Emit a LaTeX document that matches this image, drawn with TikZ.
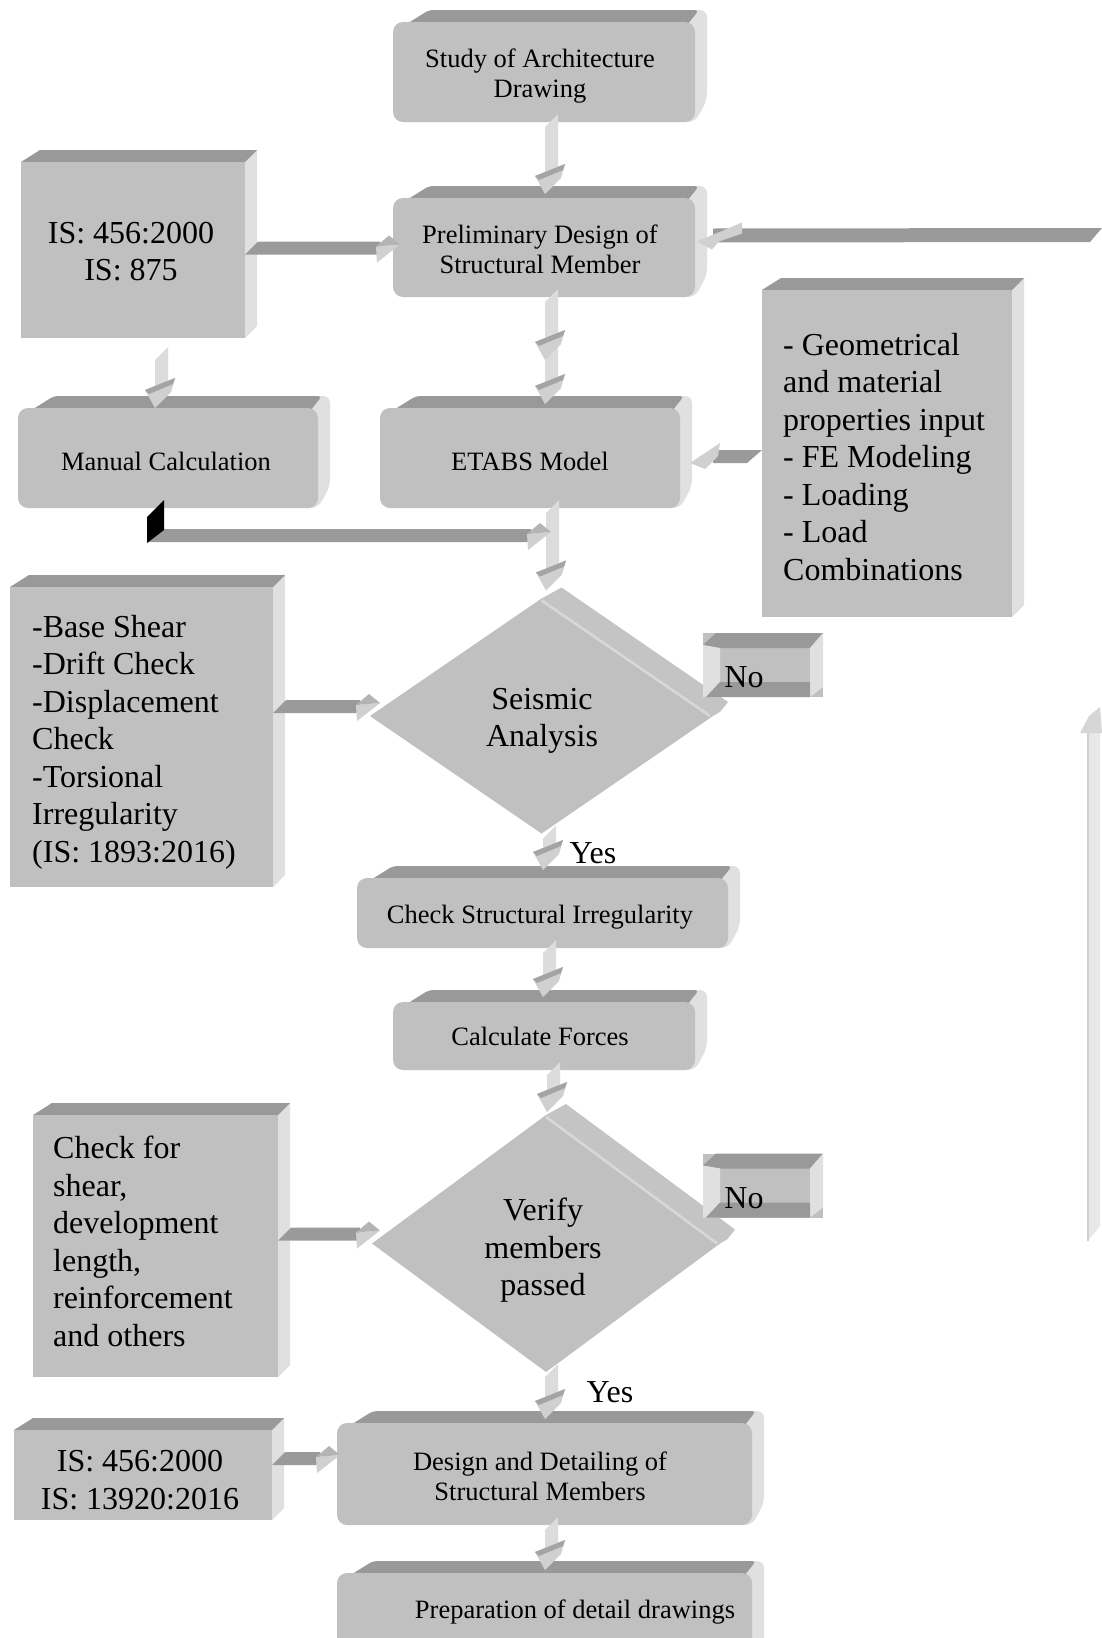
\documentclass[tikz,border=0pt]{standalone}
\usepackage{fontspec}
\setmainfont{Liberation Serif}
\usetikzlibrary{calc,shapes.geometric,backgrounds}
\definecolor{frontc}{HTML}{C0C0C0}
\definecolor{topc}{HTML}{999999}
\definecolor{sidec}{HTML}{E0E0E0}
\definecolor{barv}{HTML}{DCDCDC}
\definecolor{headd}{HTML}{A4A4A4}
\definecolor{headl}{HTML}{D0D0D0}
\definecolor{headm}{HTML}{B4B4B4}
\definecolor{barh}{HTML}{9A9A9A}
\definecolor{bandc}{HTML}{C4C4C4}
\definecolor{edgec}{HTML}{D8D8D8}
\definecolor{upc}{HTML}{E8E8E8}
\definecolor{upedge}{HTML}{D0D0D0}
\definecolor{uphead}{HTML}{D6D6D6}
\tikzset{
 rbox/.style={rectangle, rounded corners=10pt, fill=frontc, draw=none, inner sep=0pt, outer sep=0pt},
 sbox/.style={rectangle, fill=frontc, draw=none, inner sep=0pt, outer sep=0pt},
 dbox/.style={diamond, fill=frontc, draw=none, inner sep=0pt, outer sep=0pt},
 smalltxt/.style={font=\fontsize{26.5}{30}\selectfont, inner sep=0pt, align=center, anchor=north},
 bigtxt/.style={font=\fontsize{32}{37.5}\selectfont, inner sep=0pt, align=center, anchor=north},
 bigleft/.style={font=\fontsize{32}{37.5}\selectfont, inner sep=0pt, align=left, anchor=north west},
}
\newcommand\rback[1]{%
 \begin{pgfonlayer}{background}
 \fill[sidec, rounded corners=7pt] ($(#1.north east)+(-20,0)$) -- ($(#1.north east)+(-8,-12)$) -- ($(#1.north east)+(12,-12)$) -- ($(#1.south east)+(12,-22)$) -- (#1.south east) -- ($(#1.south east)+(-20,0)$) -- cycle;
 \fill[topc, rounded corners=4pt] ($(#1.north west)+(4,8)$) -- ($(#1.north west)+(36,-12)$) -- ($(#1.north east)+(4,-12)$) -- ($(#1.north east)+(-12,8)$) -- cycle;
 \end{pgfonlayer}}
\newcommand\sback[1]{%
 \begin{pgfonlayer}{background}
 \fill[sidec] (#1.north east) -- ($(#1.north east)+(12,-12)$) -- ($(#1.south east)+(12,-12)$) -- (#1.south east) -- cycle;
 \fill[topc] (#1.north west) -- ($(#1.north west)+(19,-12)$) -- ($(#1.north east)+(12,-12)$) -- (#1.north east) -- cycle;
 \end{pgfonlayer}}
\newcommand\dback[1]{%
 \begin{pgfonlayer}{background}
 \fill[bandc] (#1.north) -- ($(#1.north)+(20,-11)$) -- ($(#1.east)+(15,-14)$) -- ($(#1.east)+(7,-4)$) -- (#1.east) -- cycle;
 \end{pgfonlayer}
 \draw[edgec, line width=2.5pt] ($(#1.north)+(0,2)$) -- ($(#1.east)+(-3,0)$);}
\newcommand\nobox[1]{%
 \fill[topc] ($(#1)+(-60,-20)$) -- ($(#1)+(-47,-32)$) -- ($(#1)+(60,-32)$) -- ($(#1)+(47,-17)$) -- ($(#1)+(-43,-17)$) -- cycle;
 \fill[sidec] ($(#1)+(-60,-20)$) -- ($(#1)+(-43,-17)$) -- ($(#1)+(-43,32)$) -- ($(#1)+(-60,32)$) -- cycle;
 \fill[sidec] ($(#1)+(47,-17)$) -- ($(#1)+(60,-32)$) -- ($(#1)+(60,22)$) -- ($(#1)+(47,32)$) -- cycle;
 \fill[topc] ($(#1)+(-43,17)$) -- ($(#1)+(47,17)$) -- ($(#1)+(47,32)$) -- ($(#1)+(-57,32)$) -- cycle;}
\newcommand\vhead[1]{%
 \fill[headl] ($(#1)+(-10,-18)$) -- ($(#1)+(20,-30)$) -- ($(#1)+(16,-16)$) -- (#1) -- cycle;
 \fill[headd] ($(#1)+(-10,-18)$) -- ($(#1)+(20,-30)$) -- ($(#1)+(18,-24)$) -- ($(#1)+(-6,-14)$) -- cycle;}
\newcommand\varrow[2]{%
 \coordinate (vS) at (#2 |- #1);
 \fill[barv] ($(vS)+(0,5)$) -- ($(vS)+(13,-8)$) -- ($(#2)+(13,-26)$) -- ($(#2)+(0,-18)$) -- cycle;
 \vhead{#2}}
\newcommand\harrow[2]{%
 \coordinate (hS) at (#1 |- #2);
 \fill[barh] ($(hS)+(0,10)$) -- ($(hS)+(13,-3)$) -- ($(#2)+(-20,-3)$) -- ($(#2)+(-20,10)$) -- cycle;
 \fill[headl] ($(#2)+(-24,2)$) -- (#2) -- ($(#2)+(-23,18)$) -- cycle;
 \fill[headm] ($(#2)+(-24,2)$) -- ($(#2)+(-11,-9)$) -- (#2) -- cycle;}
\begin{document}
\begin{tikzpicture}[x=1pt,y=-1pt]
\useasboundingbox (0,0) rectangle (1102,1638);
\begin{pgfonlayer}{background}
\fill[white] (0,0) rectangle (1102,1638);
\end{pgfonlayer}
% front faces
\node[rbox, minimum width=302pt, minimum height=100pt] (study) at (544,72) {};
\node[rbox, minimum width=302pt, minimum height=99pt] (prelim) at (544,247.5) {};
\node[sbox, minimum width=224pt, minimum height=176pt] (is1) at (133,250) {};
\node[sbox, minimum width=250pt, minimum height=327pt] (geom) at (887,453.5) {};
\node[rbox, minimum width=300pt, minimum height=100pt] (manual) at (168,458) {};
\node[rbox, minimum width=300pt, minimum height=100pt] (etabs) at (530,458) {};
\node[sbox, minimum width=263pt, minimum height=300pt] (base) at (141.5,737) {};
\node[dbox, minimum width=343pt, minimum height=235pt] (seismic) at (541.5,716) {};
\node[rbox, minimum width=371pt, minimum height=70pt] (check) at (542.5,913) {};
\node[rbox, minimum width=302pt, minimum height=68pt] (calc) at (544,1036) {};
\node[sbox, minimum width=245pt, minimum height=262pt] (checkfor) at (155.5,1246) {};
\node[dbox, minimum width=348pt, minimum height=257pt] (verify) at (546,1243.5) {};
\node[sbox, minimum width=258pt, minimum height=90pt] (is2) at (143,1475) {};
\node[rbox, minimum width=415pt, minimum height=102pt] (design) at (544.5,1474) {};
\node[rbox, minimum width=415pt, minimum height=110pt] (prep) at (544.5,1628) {};
\node[sbox, minimum width=120pt, minimum height=64pt] (no1) at (763,665) {};
\node[sbox, minimum width=120pt, minimum height=64pt] (no2) at (763,1185.5) {};
% 3D faces
\rback{study}\rback{prelim}\rback{manual}\rback{etabs}\rback{check}\rback{calc}\rback{design}\rback{prep}
\sback{is1}\sback{geom}\sback{base}\sback{checkfor}\sback{is2}
\dback{seismic}\dback{verify}
\nobox{no1}\nobox{no2}
% connector end points
\coordinate (tA) at ($(prelim.north)+(1,-4)$);
\coordinate (tBx) at (tA |- etabs.north);
\coordinate (tB) at ($(tBx)+(0,-4)$);
\coordinate (tB1) at ($(tBx)+(0,-48)$);
\coordinate (isM) at ($(is1.south)+(0,17)$);
\coordinate (tC) at ($(manual.north)+(-13,0)$);
\coordinate (tDx) at (tA |- seismic.north);
\coordinate (tD) at ($(tDx)+(1,-8)$);
\coordinate (tE) at ($(check.north)+(0.5,-8)$);
\coordinate (tF) at ($(calc.north)+(-1,-5)$);
\coordinate (tG) at ($(verify.north)+(1,-3)$);
\coordinate (tH) at ($(design.north)+(0.5,-4)$);
\coordinate (tI) at ($(prep.north)+(0.5,-3)$);
\coordinate (hA) at ($(prelim.west)+(7,-3)$);
\coordinate (hB) at ($(seismic.west)+(10,-13)$);
\coordinate (hC) at ($(verify.west)+(8,-13)$);
\coordinate (hD) at ($(design.west)+(3,-19)$);
\coordinate (hJ) at ($(etabs.south)+(21,24)$);
\coordinate (mS) at ($(manual.south)+(-21,0)$);
\coordinate (lA) at ($(prelim.east)+(2,-6)$);
\coordinate (rIn) at (1102,235);
\coordinate (lB) at ($(etabs.east)+(10,5)$);
\coordinate (gS) at (geom.west |- lB);
\coordinate (uB) at (1088,1241);
% vertical connectors
\varrow{study.south}{tA}
\varrow{prelim.south}{tB}
\vhead{tB1}
\varrow{isM}{tC}
\varrow{etabs.south}{tD}
\varrow{seismic.south}{tE}
\varrow{check.south}{tF}
\varrow{calc.south}{tG}
\varrow{verify.south}{tH}
\varrow{design.south}{tI}
% horizontal connectors
\harrow{is1.east}{hA}
\harrow{base.east}{hB}
\harrow{checkfor.east}{hC}
\harrow{is2.east}{hD}
\harrow{mS}{hJ}
\fill[black] ($(mS)+(0,35)$) -- ($(mS)+(0,9)$) -- ($(mS)+(17,-8)$) -- ($(mS)+(17,22)$) -- cycle;
% leftward connectors
\fill[barh] ($(lA)+(16,-13)$) -- ($(rIn)+(0,-7)$) -- ($(rIn)+(-12,7)$) -- ($(lA)+(16,1)$) -- cycle;
\fill[headl] (lA) -- ($(lA)+(45,-19)$) -- ($(lA)+(45,-8)$) -- ($(lA)+(22,0)$) -- ($(lA)+(15,8)$) -- cycle;
\fill[barh] ($(lB)+(23,-13)$) -- ($(gS)+(0,-13)$) -- ($(gS)+(-15,0)$) -- ($(lB)+(23,0)$) -- cycle;
\fill[headl] (lB) -- ($(lB)+(30,-20)$) -- ($(lB)+(28,-7)$) -- ($(lB)+(15,6)$) -- cycle;
% upward connector on the right
\fill[upc] (uB) -- ($(uB)+(0,-508)$) -- ($(uB)+(12,-508)$) -- ($(uB)+(12,-15)$) -- cycle;
\draw[upedge, line width=1.5pt] (uB) -- ($(uB)+(0,-508)$);
\fill[uphead] ($(uB)+(-8,-508)$) -- ($(uB)+(1,-525)$) -- ($(uB)+(12,-534)$) -- ($(uB)+(14,-508)$) -- cycle;
% texts
\node[smalltxt] (studyT) at (540,49) {Study of Architecture\\Drawing};
\node[smalltxt] (prelimT) at (540,225) {Preliminary Design of\\Structural Member};
\node[bigtxt] (is1T) at (131,222) {IS: 456:2000\\IS: 875};
\node[bigleft] (geomT) at (783,333) {- Geometrical\\and material\\properties input\\- FE Modeling\\- Loading\\- Load\\Combinations};
\node[smalltxt] (manualT) at (166,452) {Manual Calculation};
\node[smalltxt] (etabsT) at (530,452) {ETABS Model};
\node[bigleft] (baseT) at (32,615) {-Base Shear\\-Drift Check\\-Displacement\\Check\\-Torsional\\Irregularity\\(IS: 1893:2016)};
\node[bigtxt] (seismicT) at (542,688) {Seismic\\Analysis};
\node[bigtxt] (no1T) at (744,666) {No};
\node[bigtxt] (yes1T) at (593,842) {Yes};
\node[smalltxt] (checkT) at (540,905) {Check Structural Irregularity};
\node[smalltxt] (calcT) at (540,1027) {Calculate Forces};
\node[bigleft] (checkforT) at (53,1136) {Check for\\shear,\\development\\length,\\reinforcement\\and others};
\node[bigtxt] (verifyT) at (543,1198) {Verify\\members\\passed};
\node[bigtxt] (no2T) at (744,1187) {No};
\node[bigtxt] (yes2T) at (610,1381) {Yes};
\node[bigtxt] (is2T) at (140,1450) {IS: 456:2000\\IS: 13920:2016};
\node[smalltxt] (designT) at (540,1452) {Design and Detailing of\\Structural Members};
\node[smalltxt] (prepT) at (575,1600) {Preparation of detail drawings};
\end{tikzpicture}
\end{document}
